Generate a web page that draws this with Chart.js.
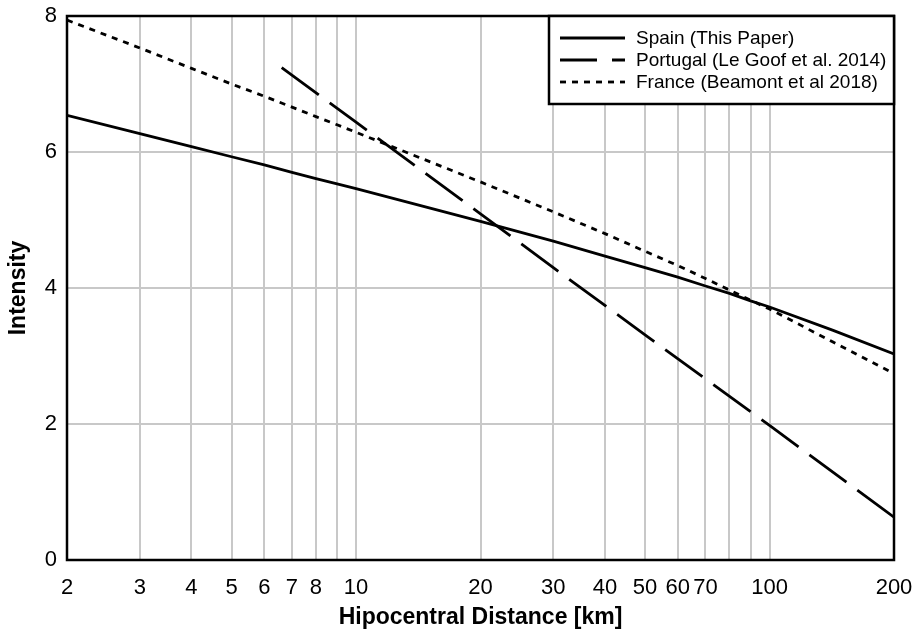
<!DOCTYPE html>
<html>
<head>
<meta charset="utf-8">
<script src="https://cdn.jsdelivr.net/npm/chart.js@4.4.0/dist/chart.umd.min.js"></script>
<style>
  body { margin: 0; background: #fff; }
  #wrap { width: 921px; height: 629px; }
</style>
</head>
<body>
<div id="wrap"><canvas id="myChart" width="921" height="629"></canvas></div>
<script>
// distances (km) and intensities
var spainR = [2, 3, 4, 5, 6, 7, 8, 9, 10, 20, 30, 40, 50, 60, 70, 80, 90, 100, 142, 200];
var spainI = [6.54, 6.27, 6.08, 5.93, 5.81, 5.70, 5.61, 5.53, 5.46, 4.98, 4.69, 4.47, 4.30, 4.16, 4.03, 3.92, 3.81, 3.72, 3.38, 3.03];

var portugalR = [6.61, 10, 20, 30, 50, 100, 200];
var portugalI = [7.24, 6.44, 5.09, 4.30, 3.31, 1.98, 0.63];

var franceR = [2, 3, 4, 5, 6, 7, 8, 9, 10, 20, 30, 40, 50, 60, 70, 80, 90, 100, 142, 200];
var franceI = [7.94, 7.53, 7.23, 7.00, 6.82, 6.66, 6.52, 6.40, 6.29, 5.56, 5.12, 4.80, 4.54, 4.33, 4.14, 3.97, 3.82, 3.69, 3.21, 2.74];

var xGrid = [2, 3, 4, 5, 6, 7, 8, 9, 10, 20, 30, 40, 50, 60, 70, 80, 90, 100, 200];
var xLabeled = [2, 3, 4, 5, 6, 7, 8, 10, 20, 30, 40, 50, 60, 70, 100, 200];
var yTicks = [0, 2, 4, 6, 8];

var seriesLabels = ['Spain (This Paper)', 'Portugal (Le Goof et al. 2014)', 'France (Beamont et al 2018)'];

var FONT = "'Liberation Sans', Arial, sans-serif";

function pts(xs, ys) {
    return xs.map(function (x, i) { return { x: x, y: ys[i] }; });
}

function line(label, data, dash, legendDash) {
    return {
        label: label,
        data: data,
        borderColor: '#000',
        borderWidth: 2.8,
        borderDash: dash,
        legendDash: legendDash,
        pointRadius: 0,
        tension: 0,
        fill: false
    };
}

// box round the plot + legend inside top right
var framePlugin = {
    id: 'frame',
    afterDraw: function (chart) {
        var ctx = chart.ctx, a = chart.chartArea;
        ctx.save();
        ctx.strokeStyle = '#000';
        ctx.lineWidth = 2.5;
        ctx.strokeRect(a.left, a.top, a.right - a.left, a.bottom - a.top);

        var w = 345, h = 88;
        var x0 = a.right - w, y0 = a.top;
        ctx.fillStyle = '#fff';
        ctx.fillRect(x0, y0, w, h);
        ctx.strokeRect(x0, y0, w, h);

        ctx.font = '19px ' + FONT;
        ctx.textBaseline = 'middle';
        ctx.textAlign = 'left';
        chart.data.datasets.forEach(function (ds, i) {
            var yy = y0 + 22 + i * 22;
            ctx.beginPath();
            ctx.setLineDash(ds.legendDash);
            ctx.lineWidth = 2.8;
            ctx.moveTo(x0 + 11, yy);
            ctx.lineTo(x0 + 76, yy);
            ctx.stroke();
            ctx.setLineDash([]);
            ctx.fillStyle = '#000';
            ctx.fillText(ds.label, x0 + 87, yy + 1);
        });
        ctx.restore();
    }
};

var ctx = document.getElementById('myChart').getContext('2d');
var myChart = new Chart(ctx, {
    type: 'line',
    data: {
        datasets: [
            line(seriesLabels[0], pts(spainR, spainI), [], []),
            line(seriesLabels[1], pts(portugalR, portugalI), [46, 13.5], [37, 15]),
            line(seriesLabels[2], pts(franceR, franceI), [6, 6], [6, 6])
        ]
    },
    options: {
        responsive: false,
        animation: false,
        layout: { padding: { top: 16, right: 27, left: 0, bottom: 0 } },
        plugins: {
            legend: { display: false },
            tooltip: { enabled: false }
        },
        scales: {
            x: {
                type: 'logarithmic',
                min: 2,
                max: 200,
                afterBuildTicks: function (axis) {
                    axis.ticks = xGrid.map(function (v) { return { value: v }; });
                },
                afterFit: function (axis) {
                    axis.height = 69;
                    axis.paddingLeft = 0;
                    axis.paddingRight = 0;
                },
                ticks: {
                    autoSkip: false,
                    maxRotation: 0,
                    padding: 15,
                    color: '#000',
                    font: { family: FONT, size: 22 },
                    callback: function (v) { return xLabeled.indexOf(v) >= 0 ? String(v) : ''; }
                },
                grid: { color: '#c8c8c8', lineWidth: 2, drawTicks: false },
                border: { display: false },
                title: {
                    display: true,
                    text: 'Hipocentral Distance [km]',
                    color: '#000',
                    font: { family: FONT, size: 23, weight: 'bold', lineHeight: 1 },
                    padding: { top: 4, bottom: 0 }
                }
            },
            y: {
                min: 0,
                max: 8,
                afterBuildTicks: function (axis) {
                    axis.ticks = yTicks.map(function (v) { return { value: v }; });
                },
                afterFit: function (axis) {
                    axis.width = 67;
                    axis.paddingTop = 0;
                    axis.paddingBottom = 0;
                },
                ticks: {
                    padding: 10,
                    color: '#000',
                    font: { family: FONT, size: 22 }
                },
                grid: { color: '#c8c8c8', lineWidth: 2, drawTicks: false },
                border: { display: false },
                title: {
                    display: true,
                    text: 'Intensity',
                    color: '#000',
                    font: { family: FONT, size: 23, weight: 'bold', lineHeight: 1 },
                    padding: { top: 7, bottom: 0 }
                }
            }
        }
    },
    plugins: [framePlugin]
});
</script>
</body>
</html>
